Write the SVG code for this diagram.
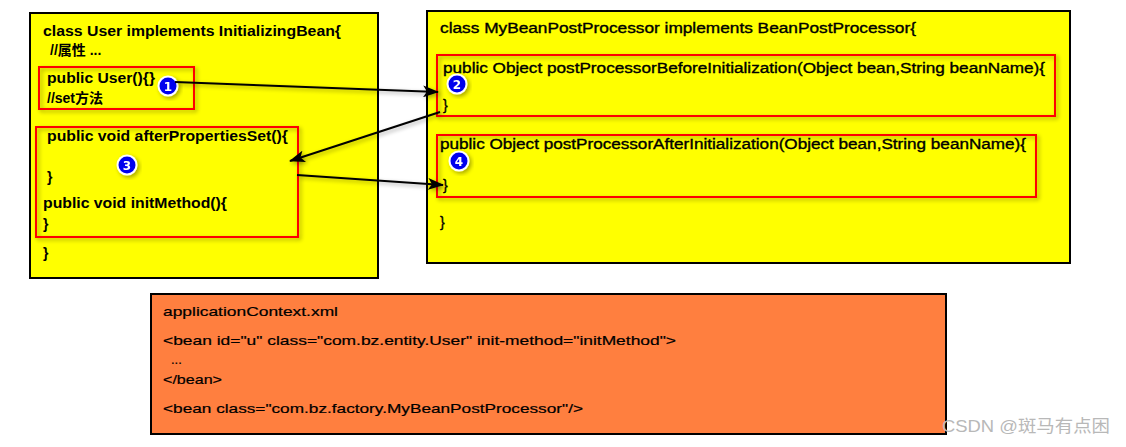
<svg xmlns="http://www.w3.org/2000/svg" width="1126" height="447" viewBox="0 0 1126 447">
<defs>
<style>
.t{font-family:"Liberation Sans",Arial,"Noto Sans CJK SC",sans-serif;font-size:14px;font-weight:bold;fill:#000}
.r{font-family:"Liberation Sans",Arial,"Noto Sans CJK SC",sans-serif;font-size:14px;fill:#000;stroke:#000;stroke-width:0.35}
.o{font-family:"Liberation Sans",Arial,sans-serif;font-size:13px;fill:#000;stroke:#000;stroke-width:0.2}
.cls{fill:#ffff00;stroke:#000;stroke-width:2}
.red{fill:none;stroke:#ff0000;stroke-width:2}
.num{font-family:"DejaVu Sans",sans-serif;font-size:12px;font-weight:bold;fill:#fff;text-anchor:middle}
.conn{stroke:#000;stroke-width:2;fill:none}
</style>
<filter id="sh" x="-20%" y="-20%" width="140%" height="140%">
<feGaussianBlur in="SourceAlpha" stdDeviation="2"/>
<feOffset dx="2" dy="2" result="b"/>
<feComponentTransfer><feFuncA type="linear" slope="0.35"/></feComponentTransfer>
<feMerge><feMergeNode/><feMergeNode in="SourceGraphic"/></feMerge>
</filter>
<marker id="ah" markerWidth="16" markerHeight="12" refX="15" refY="6" orient="auto" markerUnits="userSpaceOnUse">
<path d="M0,0 L16,6 L0,12 L4,6 Z" fill="#000"/>
</marker>
<g id="badge">
<circle r="10.5" fill="#fff"/>
<circle r="8.5" fill="#0000ee"/>
</g>
</defs>
<rect width="1126" height="447" fill="#fff"/>

<g id="user-class">
<rect class="cls" x="30" y="13" width="348" height="265"/>
<text class="t" x="43" y="36" textLength="298" lengthAdjust="spacingAndGlyphs">class User implements InitializingBean{</text>
<text class="t" x="50" y="55" font-size="15">//属性 ...</text>
<g id="user-constructor">
<rect class="red" x="39" y="67" width="155" height="42" filter="url(#sh)"/>
<text class="t" x="47" y="83" textLength="108" lengthAdjust="spacingAndGlyphs">public User(){}</text>
<text class="t" x="47" y="103" font-size="15">//set方法</text>
<g filter="url(#sh)"><use href="#badge" x="168" y="86"/><text class="num" x="168" y="90.5">1</text></g>
</g>
<g id="user-init">
<rect class="red" x="36" y="127" width="262" height="110" filter="url(#sh)"/>
<text class="t" x="47" y="141" textLength="241" lengthAdjust="spacingAndGlyphs">public void afterPropertiesSet(){</text>
<text class="t" x="47" y="182">}</text>
<text class="t" x="43" y="208" textLength="184" lengthAdjust="spacingAndGlyphs">public void initMethod(){</text>
<text class="t" x="43" y="229">}</text>
<g filter="url(#sh)"><use href="#badge" x="127" y="165"/><text class="num" x="127" y="169.5">3</text></g>
</g>
<text class="t" x="43" y="258">}</text>
</g>

<g id="processor-class">
<rect class="cls" x="427" y="11" width="643" height="252"/>
<text class="r" x="440" y="33" textLength="476" lengthAdjust="spacingAndGlyphs">class MyBeanPostProcessor implements BeanPostProcessor{</text>
<g id="before-init">
<rect class="red" x="437" y="55" width="618" height="61" filter="url(#sh)"/>
<text class="r" x="443" y="73" textLength="602" lengthAdjust="spacingAndGlyphs">public Object postProcessorBeforeInitialization(Object bean,String beanName){</text>
<text class="r" x="443" y="110">}</text>
<g filter="url(#sh)"><use href="#badge" x="457" y="84"/><text class="num" x="457" y="88.5">2</text></g>
</g>
<g id="after-init">
<rect class="red" x="437" y="135" width="599" height="62" filter="url(#sh)"/>
<text class="r" x="440" y="149" textLength="586" lengthAdjust="spacingAndGlyphs">public Object postProcessorAfterInitialization(Object bean,String beanName){</text>
<text class="r" x="443" y="190">}</text>
<g filter="url(#sh)"><use href="#badge" x="459" y="161"/><text class="num" x="459" y="165.5">4</text></g>
</g>
<text class="r" x="440" y="227">}</text>
</g>

<g id="app-context">
<rect x="151" y="294" width="795" height="140" fill="#ff7f3f" stroke="#000" stroke-width="2"/>
<text class="o" x="163" y="316" textLength="175" lengthAdjust="spacingAndGlyphs">applicationContext.xml</text>
<text class="o" x="163" y="345" textLength="513" lengthAdjust="spacingAndGlyphs">&lt;bean id="u" class="com.bz.entity.User" init-method="initMethod"&gt;</text>
<text class="o" x="171" y="364">...</text>
<text class="o" x="163" y="384" textLength="59" lengthAdjust="spacingAndGlyphs">&lt;/bean&gt;</text>
<text class="o" x="163" y="413" textLength="420" lengthAdjust="spacingAndGlyphs">&lt;bean class="com.bz.factory.MyBeanPostProcessor"/&gt;</text>
</g>

<g id="connectors" filter="url(#sh)">
<line class="conn" x1="175" y1="82" x2="438" y2="92" marker-end="url(#ah)"/>
<line class="conn" x1="440" y1="112" x2="290" y2="161" marker-end="url(#ah)"/>
<line class="conn" x1="297" y1="175" x2="443" y2="185" marker-end="url(#ah)"/>
</g>

<text x="942" y="432" font-family="'Liberation Sans','Noto Sans CJK SC',sans-serif" font-size="17" fill="#b8b8b8" textLength="168" lengthAdjust="spacingAndGlyphs">CSDN @斑马有点困</text>
</svg>
